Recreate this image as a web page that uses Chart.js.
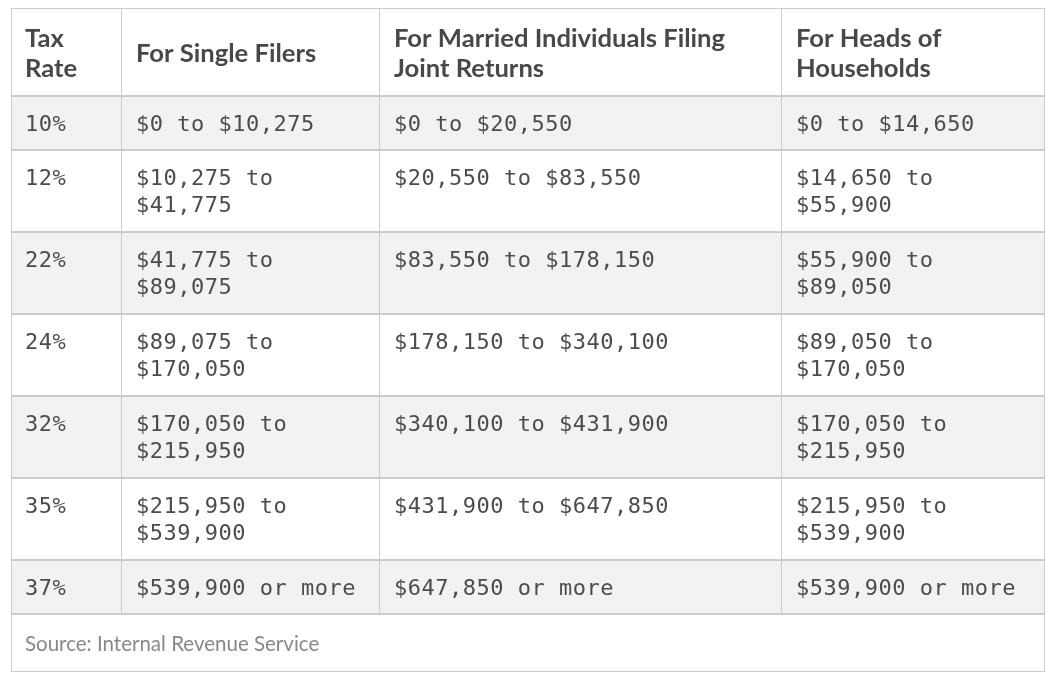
<!DOCTYPE html>
<html>
<head>
<meta charset="utf-8">
<title>Federal income tax brackets</title>
<script src="https://cdn.jsdelivr.net/npm/chart.js@4"></script>
<style>
  html, body { margin: 0; background: #fff; }
  #wrap { width: 1059px; height: 685px; position: relative; }
</style>
</head>
<body>
<div id="wrap"><canvas id="chart"></canvas></div>
<script>
// --- data ---
const headers = ['Tax Rate', 'For Single Filers', 'For Married Individuals Filing Joint Returns', 'For Heads of Households'];
const taxRates = ['10%', '12%', '22%', '24%', '32%', '35%', '37%'];
const singleFilers = ['$0 to $10,275', '$10,275 to $41,775', '$41,775 to $89,075', '$89,075 to $170,050',
  '$170,050 to $215,950', '$215,950 to $539,900', '$539,900 or more'];
const marriedJoint = ['$0 to $20,550', '$20,550 to $83,550', '$83,550 to $178,150', '$178,150 to $340,100',
  '$340,100 to $431,900', '$431,900 to $647,850', '$647,850 or more'];
const headsOfHousehold = ['$0 to $14,650', '$14,650 to $55,900', '$55,900 to $89,050', '$89,050 to $170,050',
  '$170,050 to $215,950', '$215,950 to $539,900', '$539,900 or more'];
const sourceNote = 'Source: Internal Revenue Service';

// --- layout / style ---
const $ = id => document.getElementById(id);
const colWidths = [111, 258, 402, 263];
const padX = 14;
const headFont = { font: 'bold 25.6px Lato', spacing: '0px', lh: 30, color: '#484848' };
const bodyFont = { font: '22px "DejaVu Sans Mono"', spacing: '0.5px', lh: 27, color: '#4c4c4c' };
const noteFont = { font: '20.5px Lato', spacing: '0px', color: '#888888' };
const gridColor = '#cccccc';
const stripe = '#f2f2f2';

// wrap text to a cell width, like the html table does
const measureCtx = document.createElement('canvas').getContext('2d');
function wrap(text, f, maxW) {
  measureCtx.font = f.font;
  measureCtx.letterSpacing = f.spacing;
  const words = text.split(' ');
  const lines = [];
  let cur = '';
  words.forEach(w => {
    const test = cur ? cur + ' ' + w : w;
    if (cur && measureCtx.measureText(test).width > maxW) { lines.push(cur); cur = w; }
    else cur = test;
  });
  if (cur) lines.push(cur);
  return lines;
}

const columns = [taxRates, singleFilers, marriedJoint, headsOfHousehold];
const headCells = headers.map((h, c) => wrap(h, headFont, colWidths[c] - 2 * padX));
const bodyCells = taxRates.map((_, r) => columns.map((col, c) => wrap(col[r], bodyFont, colWidths[c] - 2 * padX)));

// row heights follow the number of wrapped lines
const headH = 28 + headFont.lh * Math.max(...headCells.map(l => l.length));
const bodyH = bodyCells.map(row => 26 + 28 * Math.max(...row.map(l => l.length)));
const noteH = 58;
const rowEdges = [0, headH];
bodyH.forEach(h => rowEdges.push(rowEdges[rowEdges.length - 1] + h));
rowEdges.push(rowEdges[rowEdges.length - 1] + noteH);
const colEdges = [0];
colWidths.forEach(w => colEdges.push(colEdges[colEdges.length - 1] + w));
const totalW = colEdges[colEdges.length - 1];
const totalH = rowEdges[rowEdges.length - 1];

// --- table drawn through the chart scales ---
const tablePlugin = {
  id: 'table',
  afterDraw(chart) {
    const { ctx, scales: { x, y } } = chart;
    const px = v => Math.round(x.getPixelForValue(v));
    const py = v => Math.round(y.getPixelForValue(v));
    const nRows = bodyCells.length;
    ctx.save();

    // stripes
    ctx.fillStyle = stripe;
    for (let r = 0; r < nRows; r += 2) {
      ctx.fillRect(px(0), py(rowEdges[r + 1]), px(totalW) - px(0), py(rowEdges[r + 2]) - py(rowEdges[r + 1]));
    }

    // header text, vertically centred
    ctx.font = headFont.font;
    ctx.letterSpacing = headFont.spacing;
    ctx.fillStyle = headFont.color;
    ctx.textBaseline = 'alphabetic';
    headCells.forEach((lines, c) => {
      const mid = (py(rowEdges[0]) + py(rowEdges[1])) / 2;
      lines.forEach((t, i) => {
        ctx.fillText(t, px(colEdges[c]) + padX, mid + (i - (lines.length - 1) / 2) * headFont.lh + 10);
      });
    });

    // body text, top aligned
    ctx.font = bodyFont.font;
    ctx.letterSpacing = bodyFont.spacing;
    ctx.fillStyle = bodyFont.color;
    bodyCells.forEach((row, r) => {
      const top = py(rowEdges[r + 1]);
      row.forEach((lines, c) => {
        lines.forEach((t, i) => ctx.fillText(t, px(colEdges[c]) + padX, top + 35 + i * bodyFont.lh));
      });
    });

    // source note
    ctx.font = noteFont.font;
    ctx.letterSpacing = noteFont.spacing;
    ctx.fillStyle = noteFont.color;
    const nTop = py(rowEdges[nRows + 1]), nBot = py(rowEdges[nRows + 2]);
    ctx.fillText(sourceNote, px(0) + padX, (nTop + nBot) / 2 + 8);

    // grid lines
    ctx.fillStyle = gridColor;
    for (let r = 1; r <= nRows + 1; r++) {
      ctx.fillRect(px(0), py(rowEdges[r]) - 1, px(totalW) - px(0), 2);
    }
    for (let c = 1; c < colEdges.length - 1; c++) {
      ctx.fillRect(px(colEdges[c]) - 1, py(0), 1, py(rowEdges[nRows + 1]) - py(0));
    }
    // outer border
    ctx.fillRect(px(0), py(0), px(totalW) - px(0), 1);
    ctx.fillRect(px(0), py(totalH) - 1, px(totalW) - px(0), 1);
    ctx.fillRect(px(0), py(0), 1, py(totalH) - py(0));
    ctx.fillRect(px(totalW) - 1, py(0), 1, py(totalH) - py(0));
    ctx.restore();
  }
};

new Chart($('chart'), {
  type: 'scatter',
  data: { datasets: [] },
  options: {
    responsive: true,
    maintainAspectRatio: false,
    animation: false,
    layout: { padding: { left: 11, top: 8, right: 14, bottom: 13 } },
    plugins: { legend: { display: false }, tooltip: { enabled: false } },
    scales: {
      x: { type: 'linear', display: false, min: 0, max: totalW },
      y: { type: 'linear', display: false, reverse: true, min: 0, max: totalH }
    }
  },
  plugins: [tablePlugin]
});
</script>
</body>
</html>
